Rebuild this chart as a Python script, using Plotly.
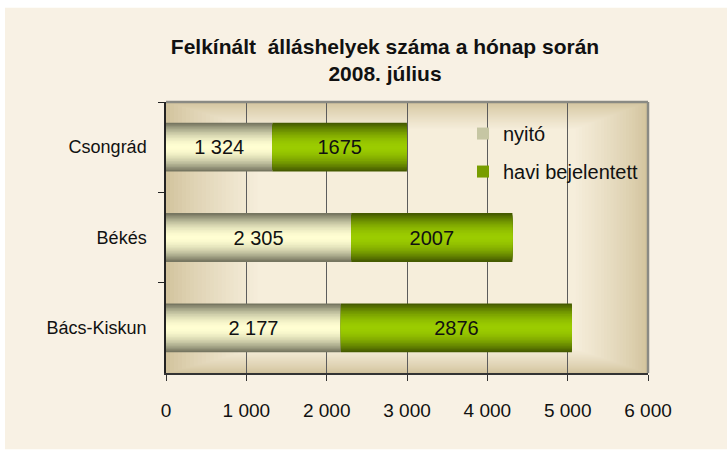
import plotly.graph_objects as go

# ---- data ----
categories = ["Csongrád", "Békés", "Bács-Kiskun"]
nyito = [1324, 2305, 2177]
havi = [1675, 2007, 2876]
series_names = ["nyitó", "havi bejelentett"]
x_ticks = [0, 1000, 2000, 3000, 4000, 5000, 6000]

# ---- style helpers ----
def hex2rgb(h):
    h = h.lstrip("#")
    return tuple(int(h[i:i + 2], 16) for i in (0, 2, 4))

def lerp(c1, c2, t):
    a, b = hex2rgb(c1), hex2rgb(c2)
    return "rgb(%d,%d,%d)" % tuple(round(a[i] + (b[i] - a[i]) * t) for i in range(3))

FONT = "Liberation Sans, Arial, sans-serif"
BAR_W = 0.54
N_LAYERS = 16

fig = go.Figure()

bases_havi = nyito
series = [
    (series_names[0], nyito, [0, 0, 0], "#6e6e5a", "#fffed2", "g1"),
    (series_names[1], havi, bases_havi, "#405400", "#9bcc00", "g2"),
]

for name, vals, base, edge, center, grp in series:
    for k in range(N_LAYERS):
        d = 1 - (k + 0.5) / N_LAYERS  # normalized distance from bar centre
        col = lerp(center, edge, d ** 1.8)
        fig.add_trace(go.Bar(
            y=categories, x=vals, base=base, orientation="h",
            width=BAR_W * (1 - k / N_LAYERS),
            marker=dict(color=col, line=dict(width=0)),
            name=name, legendgroup=grp,
            showlegend=(k == N_LAYERS // 2 - 2),
            hoverinfo="skip",
        ))

# labels
nyito_txt = [f"{v:,}".replace(",", " ") for v in nyito]
havi_txt = [str(v) for v in havi]
for vals, base, txt in [(nyito, [0, 0, 0], nyito_txt), (havi, bases_havi, havi_txt)]:
    fig.add_trace(go.Bar(
        y=categories, x=vals, base=base, orientation="h", width=BAR_W,
        marker=dict(color="rgba(0,0,0,0)", line=dict(width=0)),
        text=txt, textposition="inside", insidetextanchor="middle",
        textfont=dict(family=FONT, size=20, color="#111111"),
        constraintext="none", showlegend=False, hoverinfo="skip",
    ))

# ---- background shapes ----
shapes = []
# beige panel
shapes.append(dict(type="rect", xref="paper", yref="paper",
                   x0=(5 - 166) / 482, x1=(730 - 166) / 482,
                   y0=(373 - 449) / 270, y1=(373 - 9) / 270,
                   fillcolor="#f8f1e4", line=dict(width=0), layer="below"))
# plot area gradient (nested rectangles)
NB = 24
edge_bg, center_bg = "#d2c39d", "#f6eedb"
for k in range(NB):
    t = k / (NB - 1)
    shapes.append(dict(type="rect", xref="x domain", yref="y domain",
                       x0=0.19 * t, x1=1 - 0.15 * t,
                       y0=0.09 * t, y1=1 - 0.10 * t,
                       fillcolor=lerp(edge_bg, center_bg, t ** 0.8),
                       line=dict(width=0), layer="below"))
# top & right border
shapes.append(dict(type="line", xref="x domain", yref="y domain",
                   x0=0, x1=1, y0=1, y1=1,
                   line=dict(color="#8a8a84", width=2.5), layer="above"))
shapes.append(dict(type="line", xref="x domain", yref="y domain",
                   x0=1, x1=1, y0=0, y1=1,
                   line=dict(color="#8a8a84", width=2.5), layer="above"))

fig.update_layout(
    width=727, height=454,
    margin=dict(l=166, r=79, t=102, b=81),
    paper_bgcolor="white",
    plot_bgcolor="#f6eedb",
    barmode="overlay",
    separators=", ",
    shapes=shapes,
    font=dict(family=FONT, color="#111111"),
    title=dict(
        text="<b>Felkínált\u00a0 álláshelyek száma a hónap során<br>2008. július</b>",
        x=385 / 727, xanchor="center", xref="container",
        y=1 - 54 / 454, yanchor="top", yref="container",
        font=dict(family=FONT, size=21, color="#111111"),
    ),
    legend=dict(
        x=(463 - 166) / 482, y=(373 - 115) / 270, xanchor="left", yanchor="top",
        bgcolor="rgba(0,0,0,0)", font=dict(family=FONT, size=20, color="#111111"),
        tracegroupgap=9, traceorder="grouped",
    ),
    xaxis=dict(
        range=[0, 6000], tickvals=x_ticks, tickformat=",d",
        showgrid=True, gridcolor="#5c5c5c", gridwidth=1,
        showline=True, linecolor="#333333", linewidth=2,
        ticks="outside", ticklen=6, tickcolor="#333333",
        tickfont=dict(family=FONT, size=19, color="#111111"),
        ticklabelstandoff=13,
        zeroline=False, fixedrange=True,
    ),
    yaxis=dict(
        type="category", autorange="reversed",
        showgrid=False, showline=True, linecolor="#222222", linewidth=1.5,
        ticks="outside", ticklen=6, tickcolor="#222222", tickson="boundaries",
        tickfont=dict(family=FONT, size=18, color="#111111"),
        ticklabelstandoff=14, fixedrange=True,
    ),
)

fig.write_html("out.html")
